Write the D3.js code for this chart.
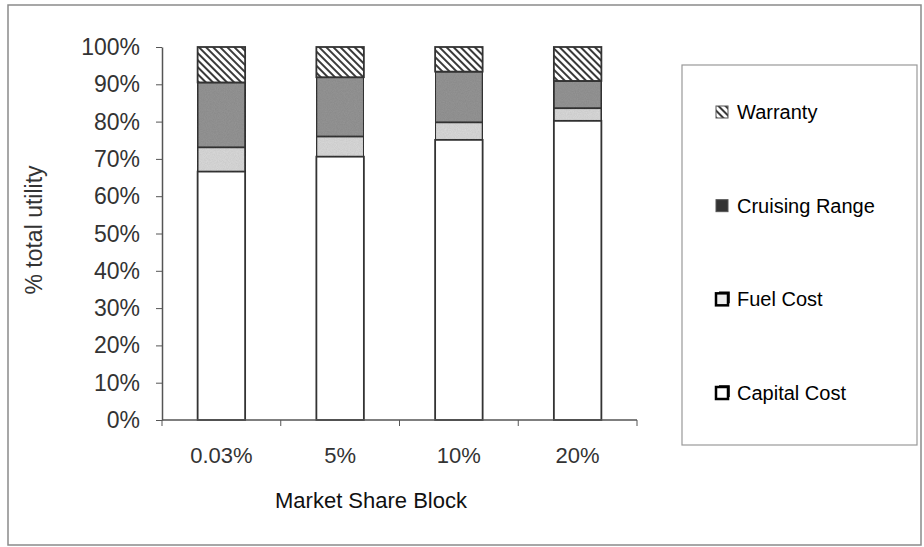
<!DOCTYPE html>
<html>
<head>
<meta charset="utf-8">
<script src="https://cdn.jsdelivr.net/npm/d3@7"></script>
<style>
	html, body { margin: 0; padding: 0; background: #fff; overflow: hidden; }
	svg { display: block; }
	text { font-family: Arial, "Liberation Sans", sans-serif; }
</style>
</head>
<body>
<svg id="chart" width="924" height="547"></svg>
<script>
// values, % of total utility
const categories = ['0.03%', '5%', '10%', '20%']
const seriesNames = ['Capital Cost', 'Fuel Cost', 'Cruising Range', 'Warranty']
const capitalCost = [66.6, 70.6, 75.1, 80.2]
const fuelCost = [6.5, 5.4, 4.7, 3.4]
const cruisingRange = [17.4, 15.9, 13.6, 7.3]
const warranty = [9.5, 8.1, 6.6, 9.1]
const yTicks = [0, 10, 20, 30, 40, 50, 60, 70, 80, 90, 100]

const table = categories.map((c, i) => ({
	cat: c,
	'Capital Cost': capitalCost[i],
	'Fuel Cost': fuelCost[i],
	'Cruising Range': cruisingRange[i],
	'Warranty': warranty[i]
}))

const svg = d3.select('#chart')
const defs = svg.append('defs')

// diagonal hatch for warranty
const hatch = defs.append('pattern')
	.attr('id', 'hatch')
	.attr('patternUnits', 'userSpaceOnUse')
	.attr('width', 5).attr('height', 5)
	.attr('patternTransform', 'rotate(-45)')
hatch.append('rect').attr('width', 5).attr('height', 5).attr('fill', '#fff')
hatch.append('rect').attr('width', 2).attr('height', 5).attr('fill', '#3a3a3a')

// speckled grey for cruising range and fuel cost
const noise = defs.append('filter').attr('id', 'speckle')
	.attr('x', 0).attr('y', 0).attr('width', 1).attr('height', 1)
noise.append('feTurbulence').attr('type', 'fractalNoise')
	.attr('baseFrequency', 0.9).attr('numOctaves', 2).attr('result', 'n')
noise.append('feColorMatrix').attr('in', 'n').attr('type', 'matrix')
	.attr('values', '0 0 0 0 0  0 0 0 0 0  0 0 0 0 0  0 0 0 0.18 0').attr('result', 'a')
noise.append('feComposite').attr('in', 'a').attr('in2', 'SourceGraphic')
	.attr('operator', 'atop')

const fills = {
	'Capital Cost': '#ffffff',
	'Fuel Cost': '#dadada',
	'Cruising Range': '#959595',
	'Warranty': 'url(#hatch)'
}

// outer frame
svg.append('rect')
	.attr('x', 8).attr('y', 5)
	.attr('width', 913).attr('height', 540)
	.attr('fill', 'none')
	.attr('stroke', '#8a8a8a')
	.attr('stroke-width', 1.5)

const margin = {top: 47, left: 162}
const innerWidth = 475
const innerHeight = 373

const xScale = d3.scaleBand()
	.domain(categories)
	.range([0, innerWidth])
	.paddingInner(0.6)
	.paddingOuter(0.3)

const yScale = d3.scaleLinear()
	.domain([0, 100])
	.range([innerHeight, 0])

const g = svg.append('g')
	.attr('transform', `translate(${margin.left}, ${margin.top})`)

const stacked = d3.stack().keys(seriesNames)(table)

g.selectAll('.layer')
	.data(stacked)
	.enter()
	.append('g')
	.attr('class', 'layer')
	.each(function (layer) {
		const key = layer.key
		d3.select(this).selectAll('rect')
			.data(layer)
			.enter()
			.append('rect')
			.attr('x', d => xScale(d.data.cat))
			.attr('y', d => yScale(d[1]))
			.attr('width', xScale.bandwidth())
			.attr('height', d => yScale(d[0]) - yScale(d[1]))
			.attr('fill', fills[key])
			.attr('filter', (key == 'Cruising Range' || key == 'Fuel Cost') ? 'url(#speckle)' : null)
			.attr('stroke', '#333')
			.attr('stroke-width', 1.8)
	})

// x axis, ticks at band edges
const xAxisG = g.append('g')
	.attr('transform', `translate(0, ${innerHeight})`)
xAxisG.append('line')
	.attr('x1', 0).attr('x2', innerWidth)
	.attr('stroke', '#555').attr('stroke-width', 1.5)
const step = xScale.step()
xAxisG.selectAll('.xtick')
	.data(d3.range(categories.length + 1))
	.enter()
	.append('line')
	.attr('x1', i => i * step).attr('x2', i => i * step)
	.attr('y1', 0).attr('y2', 6)
	.attr('stroke', '#555')
xAxisG.selectAll('.xlabel')
	.data(categories)
	.enter()
	.append('text')
	.attr('x', d => xScale(d) + xScale.bandwidth() / 2)
	.attr('y', 43)
	.attr('text-anchor', 'middle')
	.attr('font-size', 22)
	.attr('fill', '#333')
	.text(d => d)

// y axis, labels drawn separately
const yAxis = d3.axisLeft(yScale)
	.tickValues(yTicks)
	.tickFormat('')
	.tickSize(6)
	.tickSizeOuter(0)

const yAxisG = g.append('g').call(yAxis)
yAxisG.select('.domain').attr('stroke', '#555').attr('stroke-width', 1.5)
yAxisG.selectAll('line').attr('stroke', '#555')

// right-aligned by measuring, start anchored
svg.selectAll('.ylabel')
	.data(yTicks)
	.enter()
	.append('text')
	.attr('class', 'ylabel')
	.attr('y', d => margin.top + yScale(d) + 8)
	.attr('font-size', 23)
	.attr('fill', '#333')
	.text(d => d + '%')
	.attr('x', function () { return margin.left - 22 - this.getComputedTextLength() })

svg.append('text')
	.attr('transform', 'translate(42, 230) rotate(-90)')
	.attr('text-anchor', 'middle')
	.attr('font-size', 23)
	.attr('fill', '#333')
	.text('% total utility')

svg.append('text')
	.attr('x', 371)
	.attr('y', 508)
	.attr('text-anchor', 'middle')
	.attr('font-size', 22)
	.attr('fill', '#111')
	.text('Market Share Block')

// legend
const legend = svg.append('g')
legend.append('rect')
	.attr('x', 682).attr('y', 65)
	.attr('width', 235).attr('height', 380)
	.attr('fill', '#fff')
	.attr('stroke', '#999')
	.attr('stroke-width', 1.2)

const legendOrder = seriesNames.slice().reverse()
const legendY = d3.scalePoint()
	.domain(legendOrder)
	.range([112, 393])

const items = legend.selectAll('.item')
	.data(legendOrder)
	.enter()
	.append('g')
	.attr('transform', d => `translate(716, ${legendY(d)})`)

items.append('rect')
	.attr('x', 0).attr('y', -6)
	.attr('width', 12).attr('height', 12)
	.attr('fill', d => d == 'Capital Cost' ? '#fff' : d == 'Fuel Cost' ? '#eee' : d == 'Cruising Range' ? '#333' : 'url(#hatch)')
	.attr('stroke', d => (d == 'Capital Cost' || d == 'Fuel Cost') ? '#000' : '#555')
	.attr('stroke-width', d => (d == 'Capital Cost' || d == 'Fuel Cost') ? 2.5 : 1)

items.filter(d => d == 'Capital Cost' || d == 'Fuel Cost')
	.append('path')
	.attr('d', 'M3,-7 H13 V4')
	.attr('fill', 'none')
	.attr('stroke', '#000')
	.attr('stroke-width', 1.5)

items.append('text')
	.attr('x', 21)
	.attr('y', 7)
	.attr('font-size', 20)
	.attr('fill', '#000')
	.text(d => d)
</script>
</body>
</html>
